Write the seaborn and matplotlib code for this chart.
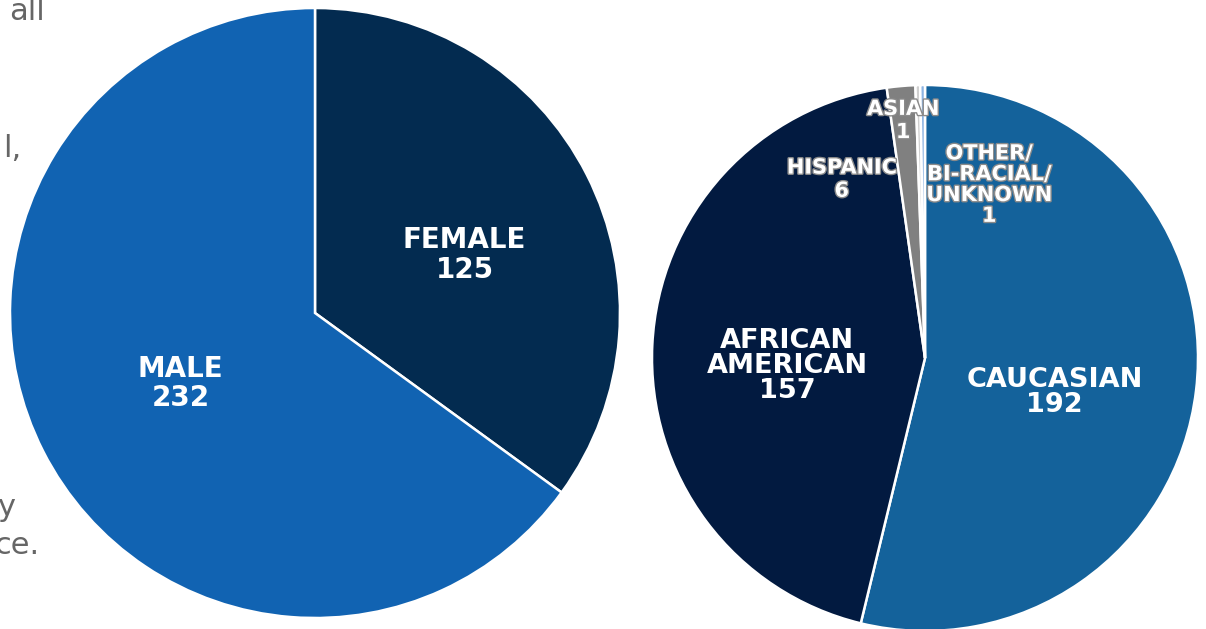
import matplotlib
matplotlib.use("Agg")
import matplotlib.pyplot as plt
import matplotlib.patheffects as pe
import seaborn as sns

# gender split
gender_labels = ["FEMALE", "MALE"]
gender_counts = [125, 232]
gender_colors = ["#032B50", "#1163B2"]

# race split
race_labels = ["CAUCASIAN", "AFRICAN\nAMERICAN", "HISPANIC", "ASIAN", "OTHER/\nBI-RACIAL/\nUNKNOWN"]
race_counts = [192, 157, 6, 1, 1]
race_colors = ["#14629B", "#021A40", "#808080", "#D0D0D0", "#8DB4E2"]

# label placement (pie-radius units), size, spacing
gender_pos = [(0.49, 0.19), (-0.44, -0.23)]
race_pos = [(0.475, -0.125), (-0.505, -0.03), (-0.305, 0.655), (-0.08, 0.87), (0.235, 0.635)]
race_size = [19.5, 19.5, 15, 15, 15]
race_spacing = [0.95, 0.95, 1.2, 1.2, 1.05]
race_outline = [False, False, True, True, True]

sns.set_theme(style="white")
plt.rcParams["font.family"] = ["DejaVu Sans"]

fig = plt.figure(figsize=(12.06, 6.29), dpi=100)
W, H = 1206, 629


def add_pie(cx, cy, r, counts, colors):
    lim = 1.02
    half = r * lim
    ax = fig.add_axes([(cx - half) / W, (H - cy - half) / H, 2 * half / W, 2 * half / H])
    ax.pie(counts, colors=colors, startangle=90, counterclock=False, radius=1,
           wedgeprops=dict(edgecolor="white", linewidth=1.8))
    ax.set_xlim(-lim, lim)
    ax.set_ylim(-lim, lim)
    ax.set_aspect("equal")
    ax.axis("off")
    return ax


ax1 = add_pie(315, 313, 305, gender_counts, gender_colors)
for lab, n, (x, y) in zip(gender_labels, gender_counts, gender_pos):
    ax1.text(x, y, f"{lab}\n{n}", color="white", fontsize=20, fontweight="bold",
             ha="center", va="center", linespacing=1.05)

ax2 = add_pie(925, 358, 273, race_counts, race_colors)
for lab, n, (x, y), fs, ls, ol in zip(race_labels, race_counts, race_pos, race_size,
                                      race_spacing, race_outline):
    t = ax2.text(x, y, f"{lab}\n{n}", color="white", fontsize=fs, fontweight="bold",
                 ha="center", va="center", linespacing=ls)
    if ol:
        t.set_path_effects([pe.withStroke(linewidth=2, foreground="#8a8a8a")])

# bits of the slide text cut off on the left edge
side_text = ["all", "l,", "y", "ce."]
side_x = [45, 21, 15, 40]
side_y = [12, 148, 508, 545]
for s, x, y in zip(side_text, side_x, side_y):
    fig.text(x / W, 1 - y / H, s, color="#666666", fontsize=22, ha="right", va="center")

fig.savefig("out.png", dpi=100)
